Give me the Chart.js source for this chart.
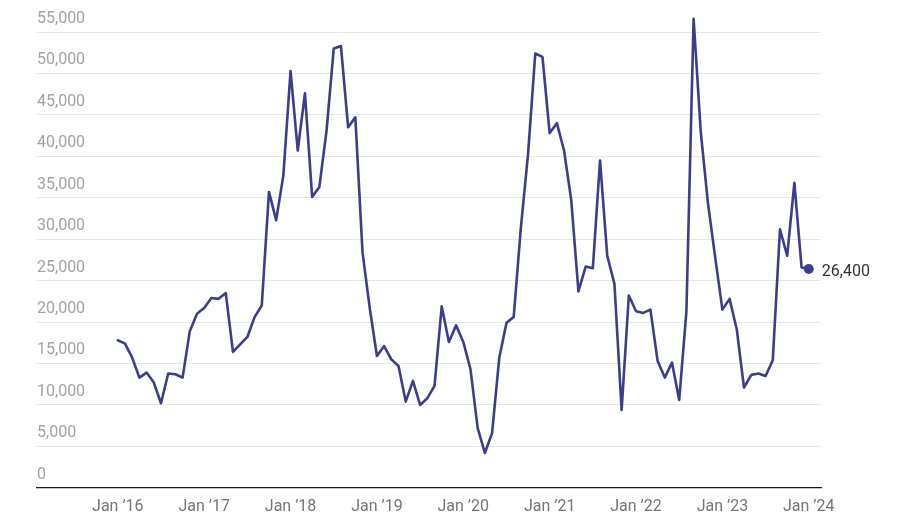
<!DOCTYPE html>
<html>
<head>
<meta charset="utf-8">
<script src="https://cdn.jsdelivr.net/npm/chart.js@4/dist/chart.umd.min.js"></script>
<style>
  html, body { margin: 0; padding: 0; background: #ffffff; }
  #wrap { width: 898px; height: 527px; }
</style>
</head>
<body>
<div id="wrap"><canvas id="c" width="898" height="527"></canvas></div>
<script>
// Monthly values, Jan 2016 .. Jan 2024 (index 0 = Jan 2016)
const values = [
  17800, 17400, 15700, 13300, 13900, 12700, 10200, 13800, 13700, 13300, 18900, 21000,
  21700, 22900, 22800, 23500, 16400, 17300, 18200, 20600, 22000, 35700, 32300, 37700,
  50300, 40700, 47600, 35100, 36300, 43100, 53000, 53300, 43500, 44700, 28400, 21700,
  15900, 17100, 15500, 14700, 10400, 12900, 10000, 10800, 12300, 21900, 17600, 19600,
  17600, 14300, 7200, 4200, 6600, 15700, 19900, 20600, 31400, 40300, 52400, 52000,
  42800, 44000, 40700, 34700, 23700, 26700, 26500, 39500, 28000, 24600, 9400, 23200,
  21300, 21100, 21500, 15300, 13300, 15100, 10600, 21300, 56600, 42900, 34300, 27800,
  21500, 22800, 19100, 12100, 13600, 13800, 13500, 15400, 31200, 28000, 36800, 26600,
  26400
];
const tickPositions = [0, 12, 24, 36, 48, 60, 72, 84, 96];
const tickLabels = ["Jan \u201916", "Jan \u201917", "Jan \u201918", "Jan \u201919", "Jan \u201920", "Jan \u201921", "Jan \u201922", "Jan \u201923", "Jan \u201924"];
const yTicks = [0, 5000, 10000, 15000, 20000, 25000, 30000, 35000, 40000, 45000, 50000, 55000];

const points = values.map((v, i) => ({ x: i, y: v }));
const lastIndex = values.length - 1;
const lineColor = '#3d3d8c';

const endLabel = {
  id: 'endLabel',
  afterDatasetsDraw(chart) {
    const meta = chart.getDatasetMeta(0);
    const el = meta.data[lastIndex];
    const ctx = chart.ctx;
    ctx.save();
    ctx.font = '16px Roboto';
    ctx.fillStyle = '#333333';
    ctx.textAlign = 'left';
    ctx.textBaseline = 'middle';
    ctx.fillText(values[lastIndex].toLocaleString('en-US'), el.x + 13, el.y + 3);
    ctx.restore();
  }
};

new Chart(document.getElementById('c'), {
  type: 'line',
  data: {
    datasets: [{
      data: points,
      borderColor: lineColor,
      backgroundColor: lineColor,
      borderWidth: 2.6,
      tension: 0,
      borderJoinStyle: 'round',
      borderCapStyle: 'round',
      clip: false,
      pointRadius: ctx => ctx.dataIndex === lastIndex ? 5 : 0,
      pointHoverRadius: 0,
      pointBorderWidth: 0,
      pointBackgroundColor: lineColor
    }]
  },
  options: {
    responsive: false,
    animation: false,
    events: [],
    layout: { padding: { left: 37, right: 77, top: 32, bottom: 0 } },
    plugins: { legend: { display: false }, tooltip: { enabled: false } },
    scales: {
      x: {
        type: 'linear',
        min: -11.23,
        max: 97.7,
        afterBuildTicks(scale) { scale.ticks = tickPositions.map(v => ({ value: v })); },
        grid: { display: false, drawTicks: false },
        border: { display: true, color: '#1a1a1a', width: 1.3 },
        ticks: {
          padding: 10,
          autoSkip: false,
          maxRotation: 0,
          color: '#767676',
          font: { family: 'Roboto', size: 16 },
          callback: (v) => { const k = tickPositions.indexOf(v); return k >= 0 ? tickLabels[k] : ''; }
        }
      },
      y: {
        min: 0,
        max: 55000,
        afterBuildTicks(scale) { scale.ticks = yTicks.map(v => ({ value: v })); },
        grid: { color: '#e6e6e6', lineWidth: 1, drawTicks: false },
        border: { display: false },
        ticks: {
          mirror: true,
          padding: 0,
          labelOffset: -13,
          color: '#a3a3a3',
          font: { family: 'Roboto', size: 16 },
          callback: (v) => Number(v).toLocaleString('en-US')
        }
      }
    }
  },
  plugins: [endLabel]
});
</script>
</body>
</html>
